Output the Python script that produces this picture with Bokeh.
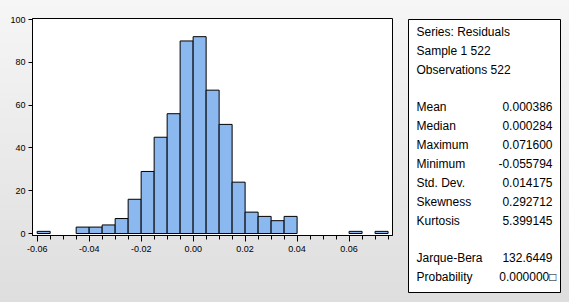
from bokeh.plotting import figure
from bokeh.layouts import row
from bokeh.models import Range1d, FixedTicker, NumeralTickFormatter, ColumnDataSource
from bokeh.core.properties import value
from bokeh.embed import file_html
from bokeh.resources import INLINE

# ---- data ----
bin_left = [-0.060, -0.045, -0.040, -0.035, -0.030, -0.025, -0.020, -0.015, -0.010,
            -0.005, 0.000, 0.005, 0.010, 0.015, 0.020, 0.025, 0.030, 0.035, 0.060, 0.070]
counts = [1, 3, 3, 4, 7, 16, 29, 45, 56, 90, 92, 67, 51, 24, 10, 8, 6, 8, 1, 1]
bin_width = 0.005
x_ticks = [-0.06, -0.04, -0.02, 0.00, 0.02, 0.04, 0.06]
y_ticks = [0, 20, 40, 60, 80, 100]

stat_labels = ["Series: Residuals", "Sample 1 522", "Observations 522",
               "Mean", "Median", "Maximum", "Minimum", "Std. Dev.", "Skewness", "Kurtosis",
               "Jarque-Bera", "Probability"]
stat_values = ["", "", "",
               "0.000386", "0.000284", "0.071600", "-0.055794", "0.014175", "0.292712", "5.399145",
               "132.6449", "0.000000\u25a1"]

FONT = "Liberation Sans"

# ---- histogram ----
p = figure(width=400, height=302, output_backend="svg", toolbar_location=None,
           x_range=Range1d(-0.0618, 0.0767), y_range=Range1d(-0.93, 100.5),
           min_border_left=32, min_border_right=8, min_border_top=18, min_border_bottom=67)
p.frame_align = False
p.background_fill_color = "white"
p.border_fill_color = None
p.outline_line_color = "black"
p.outline_line_width = 1
p.grid.visible = False

src = ColumnDataSource(dict(left=bin_left,
                            right=[b + bin_width for b in bin_left],
                            top=counts,
                            bottom=[0] * len(counts)))
p.quad(left="left", right="right", top="top", bottom="bottom", source=src,
       fill_color="#8cb8f0", line_color="black", line_width=1)

minor = [round(-0.06 + 0.005 * i, 3) for i in range(28)]
p.xaxis.ticker = FixedTicker(ticks=x_ticks, minor_ticks=minor)
p.xaxis.formatter = NumeralTickFormatter(format="0.00")
p.xaxis.major_tick_out = 6
p.xaxis.major_tick_in = 0
p.xaxis.minor_tick_out = 4
p.xaxis.minor_tick_in = 0
p.xaxis.major_label_standoff = 4
p.yaxis.ticker = FixedTicker(ticks=y_ticks, minor_ticks=[])
p.yaxis.major_tick_out = 4
p.yaxis.major_tick_in = 0
p.yaxis.major_label_standoff = 3
for ax in (p.xaxis, p.yaxis):
    ax.axis_line_color = "black"
    ax.major_tick_line_color = "black"
    ax.minor_tick_line_color = "black"
    ax.major_label_text_font = FONT
    ax.major_label_text_font_size = "9px"
    ax.major_label_text_color = "black"

# ---- statistics box ----
q = figure(width=169, height=302, output_backend="svg", toolbar_location=None,
           x_range=Range1d(0, 169), y_range=Range1d(302, 0),
           min_border=0, min_border_left=0, min_border_right=0,
           min_border_top=0, min_border_bottom=0)
q.frame_align = False
q.axis.visible = False
q.grid.visible = False
q.outline_line_color = None
q.background_fill_color = None
q.border_fill_color = None

q.quad(left=[8], right=[160], top=[19], bottom=[292], fill_color="white",
       line_color="black", line_width=1)

ys = [31, 50, 69, 106, 125, 144, 163, 182, 201, 220, 257, 276]
q.text(x=[16] * len(stat_labels), y=ys, text=stat_labels,
       text_font=value(FONT), text_font_size="12px", text_color="black",
       text_baseline="middle", text_align="left")
q.text(x=[152] * 11 + [156], y=ys, text=stat_values,
       text_font=value(FONT), text_font_size="12px", text_color="black",
       text_baseline="middle", text_align="right")

layout = row(p, q, spacing=0,
             styles={"background": "linear-gradient(to bottom, #f6f6f6, #dedede)"})

open("out.html", "w").write(file_html(layout, INLINE))
